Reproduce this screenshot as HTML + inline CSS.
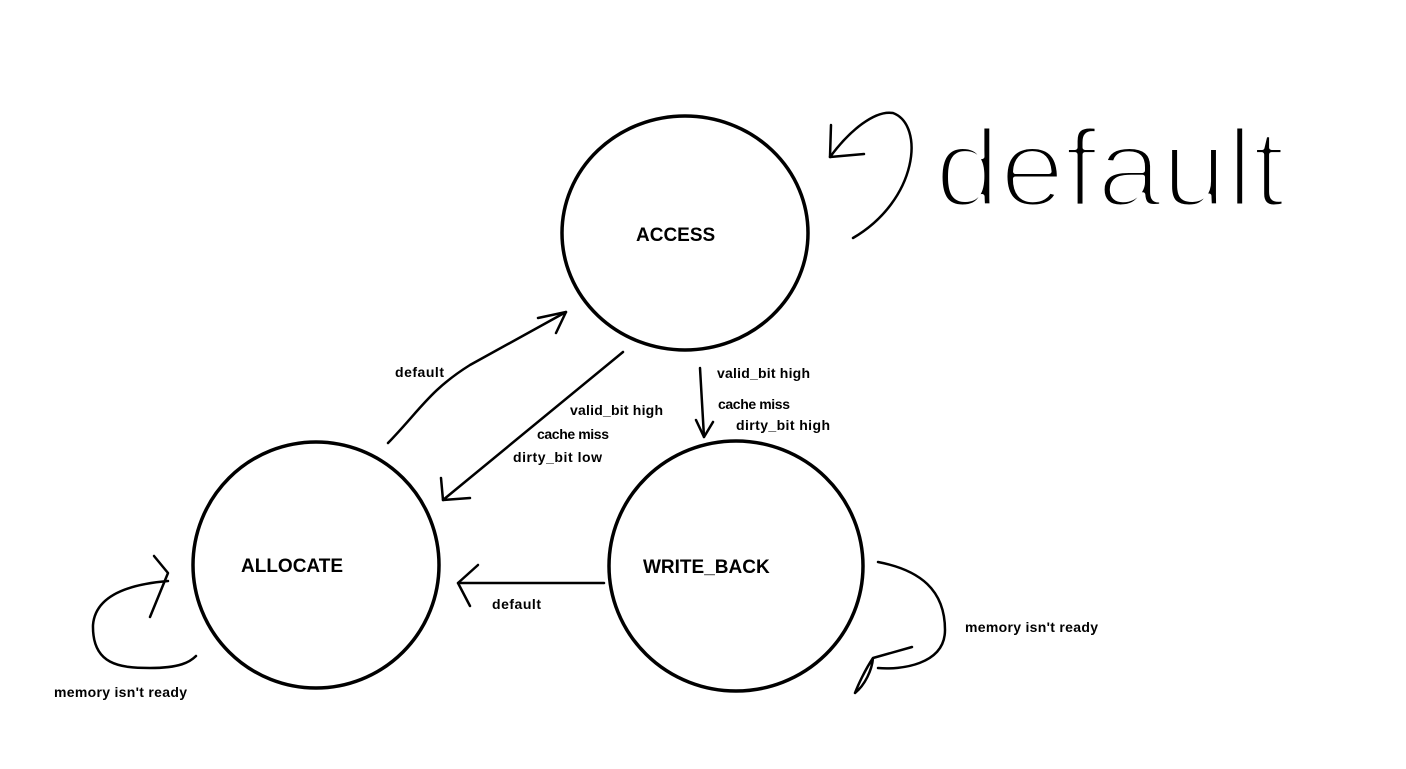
<!DOCTYPE html>
<html><head><style>
html,body{margin:0;padding:0;background:#fff;}
svg{display:block;}
.l{font-family:"Liberation Sans",sans-serif;font-weight:bold;font-size:14px;fill:#000;}
.n{font-family:"Liberation Sans",sans-serif;font-weight:bold;font-size:19px;fill:#000;}
</style></head><body>
<svg width="1406" height="769" viewBox="0 0 1406 769" xmlns="http://www.w3.org/2000/svg">
<g fill="none" stroke="#000" stroke-width="3.5">
<ellipse cx="685" cy="233" rx="123" ry="117"/>
<ellipse cx="316" cy="565" rx="123" ry="123"/>
<ellipse cx="736" cy="566" rx="127" ry="125"/>
</g>
<g fill="none" stroke="#000" stroke-width="2.5" stroke-linecap="round" stroke-linejoin="round">
<path d="M830,157 C850,130 875,110 893,113 C925,125 918,200 853,238"/>
<path d="M831,125 L830,157 L864,154"/>
<path d="M878,562 C920,570 945,590 945,630 C945,665 900,670 878,668"/>
<path d="M912,647 L873,658 C865,670 858,685 855,693 C865,685 872,670 873,658"/>
<path d="M168,581 C120,585 95,600 93,625 C92,665 120,668 150,668 C180,668 190,662 196,656"/>
<path d="M154,556 L168,573 L150,617"/>
<path d="M388,443 C420,410 430,390 470,365 L566,312"/>
<path d="M538,318 L566,312 L556,333"/>
<path d="M623,352 L443,500"/>
<path d="M441,478 L443,500 L470,498"/>
<path d="M700,368 L704,437"/>
<path d="M696,420 L704,437 L713,422"/>
<path d="M604,583 L458,583"/>
<path d="M478,565 L458,583 L470,606"/>
</g>
<text x="935" y="206" textLength="350" lengthAdjust="spacingAndGlyphs" font-family="Liberation Sans, sans-serif" font-size="110" fill="#000" stroke="#fff" stroke-width="5" stroke-linejoin="round">default</text>
<text class="n" x="636" y="241">ACCESS</text>
<text class="n" x="241" y="572">ALLOCATE</text>
<text class="n" x="643" y="573">WRITE_BACK</text>
<text class="l" x="395" y="377" textLength="49">default</text>
<text class="l" x="570" y="415" textLength="93">valid_bit high</text>
<text class="l" x="537" y="439" textLength="72">cache miss</text>
<text class="l" x="513" y="462" textLength="89">dirty_bit low</text>
<text class="l" x="717" y="378" textLength="93">valid_bit high</text>
<text class="l" x="718" y="409" textLength="72">cache miss</text>
<text class="l" x="736" y="430" textLength="94">dirty_bit high</text>
<text class="l" x="492" y="609" textLength="49">default</text>
<text class="l" x="965" y="632" textLength="133">memory isn't ready</text>
<text class="l" x="54" y="697" textLength="133">memory isn't ready</text>
</svg>
</body></html>
